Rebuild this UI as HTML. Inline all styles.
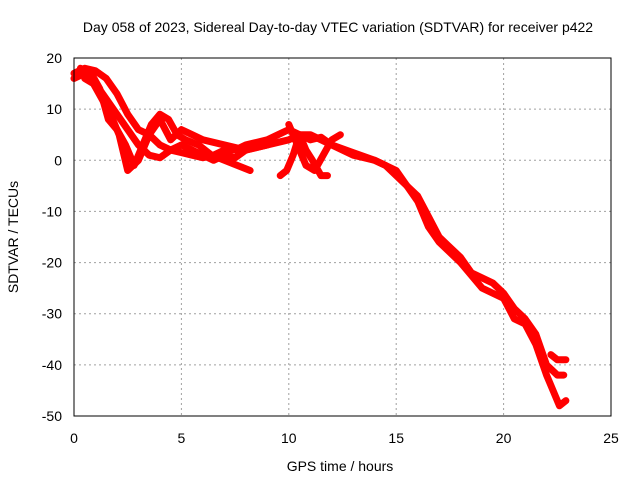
<!DOCTYPE html>
<html><head><meta charset="utf-8"><style>
body{margin:0;background:#fff}
svg{display:block;font-family:"Liberation Sans",sans-serif;font-size:14px}
</style></head><body>
<svg id="c" width="640" height="480">
<rect width="640" height="480" fill="#fff"/>
<text x="338" y="32" text-anchor="middle">Day 058 of 2023, Sidereal Day-to-day VTEC variation (SDTVAR) for receiver p422</text>
<text x="340" y="471" text-anchor="middle">GPS time / hours</text>
<text transform="translate(18,237) rotate(-90)" text-anchor="middle">SDTVAR / TECUs</text>
<g id="grid"></g><g id="series"></g>
<rect x="74" y="58" width="537" height="358" fill="none" stroke="#000"/>
</svg>
<script>
const xTicks=[0,5,10,15,20,25];
const yTicks=[20,10,0,-10,-20,-30,-40,-50];
const t1x=[0,0.5,1,1.5,2,2.5,3,3.5,4,4.5,5,5.5,6,6.5,7,7.5,8,8.5,9,9.5,10,10.5,11,11.5,12,12.5,13,13.5,14,14.5,15,15.5,16,16.5,17,17.5,18,18.5,19,19.5,20,20.5,21,21.5,22,22.5,22.8];
const t1y=[17,18,17.5,16,13,9,6,5,3,2,1.5,1,0.5,1,2,2,3,3.5,4,5,6,5,5,4,3,2,1,0.5,0,-1,-3,-5,-7,-11,-15,-17,-19,-22,-23,-24,-26,-29,-31,-34,-40,-42,-42];
const t2x=[0,0.5,1,1.5,2,2.5,3,3.5,4,4.5,5,5.5,6,6.5,7,7.5,8,9,10,10.5,11,11.5,12,13,14,15,16,16.5,17,18,19,20,20.5,21,21.5,22,22.3,22.6,22.9];
const t2y=[16,17,15,12,9,6,3,1,0.5,2,3,2,1,0,1,0.5,2,3,4,5,4,4.5,3,1.5,0,-2,-8,-13,-16,-20,-25,-27,-31,-32,-36,-42,-45,-48,-47];
const t3x=[0.3,0.8,1.2,1.6,2,2.4,2.8,3.2,3.6,4,4.4,4.8,5.2,5.8,6.4,7,7.6,8.2];
const t3y=[18,17,14,8,6,3,-1,3,7,9,8,5,4,3,1,0,-1,-2];
const t4x=[0.5,0.9,1.3,1.7,2.1,2.5,3,3.5,4,4.5,5,5.5,6,7,8,9];
const t4y=[16,15,12,9,5,-2,0,5,8,4,6,5,4,3,2,3];
const t5x=[9.6,9.9,10.2,10.5,10.8,11.1,11.5,11.8];
const t5y=[-3,-2,1,5,2,0,-3,-3];
const t6x=[10,10.4,10.8,11.2,11.6,12,12.4];
const t6y=[7,3,-1,-2,1,4,5];
const t7x=[22.2,22.5,22.9];
const t7y=[-38,-39,-39];
const tracks=[[t1x,t1y],[t2x,t2y],[t3x,t3y],[t4x,t4y],[t5x,t5y],[t6x,t6y],[t7x,t7y]];
const X=v=>74+v/25*537, Y=v=>58+(20-v)/70*358;
const NS="http://www.w3.org/2000/svg";
const g=document.getElementById('grid'), s=document.getElementById('series');
function mk(t,a,p){const e=document.createElementNS(NS,t);for(const k in a)e.setAttribute(k,a[k]);p.appendChild(e);return e;}
xTicks.forEach(v=>{
 if(v>0&&v<25){const l=mk('line',{x1:X(v),x2:X(v),y1:58,y2:416,stroke:'#a0a0a0','stroke-dasharray':'2,3'},g);
 
 }
 const t=mk('text',{x:X(v),y:443,'text-anchor':'middle'},g);t.textContent=v;
 
 
});
yTicks.forEach(v=>{
 if(v<20&&v>-50){const l=mk('line',{x1:74,x2:611,y1:Y(v),y2:Y(v),stroke:'#a0a0a0','stroke-dasharray':'2,3'},g);
 
 }
 const t=mk('text',{x:62,y:Y(v)+5,'text-anchor':'end'},g);t.textContent=v;
 
 
});
tracks.forEach(([xs,ys])=>{
 const pts=xs.map((x,i)=>X(x)+','+Y(ys[i])).join(' ');
 const p=mk('polyline',{points:pts,fill:'none',stroke:'#ff0000','stroke-width':7,'stroke-linejoin':'round','stroke-linecap':'round'},s);
 
 
});
</script>
</body></html>
